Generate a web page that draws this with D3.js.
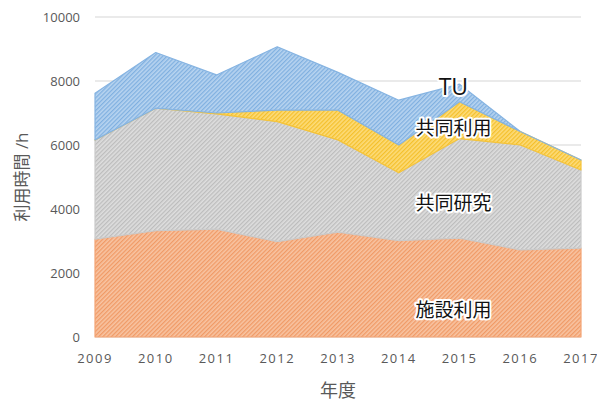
<!DOCTYPE html>
<html>
<head>
<meta charset="utf-8">
<script src="https://cdn.jsdelivr.net/npm/d3@7"></script>
<style>
  body { margin: 0; background: #fff; }
  text { font-family: "Open Sans", "Noto Sans CJK JP", sans-serif; }
</style>
</head>
<body>
<svg width="597" height="403"></svg>
<script>
const years = [2009, 2010, 2011, 2012, 2013, 2014, 2015, 2016, 2017];
const shisetsu = [3060, 3320, 3370, 2980, 3280, 3010, 3090, 2720, 2780];
const kyodoKenkyu = [3100, 3830, 3600, 3750, 2880, 2120, 3110, 3280, 2440];
const kyodoRiyo = [0, 0, 30, 360, 930, 870, 1150, 420, 310];
const tu = [1460, 1740, 1190, 1980, 1180, 1400, 550, 0, 0];
const yTicks = [0, 2000, 4000, 6000, 8000, 10000];

const keys = ['施設利用', '共同研究', '共同利用', 'TU'];
const seriesValues = [shisetsu, kyodoKenkyu, kyodoRiyo, tu];
const colors = {
  '施設利用': { base: '#f8c4a2', line: '#f09a66', edge: '#f3a474' },
  '共同研究': { base: '#dedede', line: '#bdbdbd', edge: '#cacaca' },
  '共同利用': { base: '#fddc7a', line: '#f4c02c', edge: '#f5c43a' },
  'TU':       { base: '#b8d4f0', line: '#80b0e0', edge: '#86b4e2' }
};
const labelPos = { // anchor (year, value) for in-chart labels
  'TU': [2014.9, 7830],
  '共同利用': [2014.9, 6530],
  '共同研究': [2014.9, 4190],
  '施設利用': [2014.9, 860]
};
const labelSize = { 'TU': 23, '共同利用': 19, '共同研究': 19, '施設利用': 19 };

const margin = { left: 95, right: 16, top: 17, bottom: 66 };
const svg = d3.select('svg');
const width = +svg.attr('width');
const height = +svg.attr('height');
const innerWidth = width - margin.left - margin.right;
const innerHeight = height - margin.top - margin.bottom;

const table = years.map((yr, i) => {
  const row = { year: yr };
  keys.forEach((k, j) => { row[k] = seriesValues[j][i]; });
  return row;
});

const x = d3.scaleLinear().domain([2009, 2017]).range([0, innerWidth]);
const y = d3.scaleLinear().domain([0, 10000]).range([innerHeight, 0]);

const defs = svg.append('defs');
keys.forEach((k, i) => {
  const p = defs.append('pattern')
    .attr('id', 'hatch' + i)
    .attr('patternUnits', 'userSpaceOnUse')
    .attr('width', 3)
    .attr('height', 3)
    .attr('patternTransform', 'rotate(-45)');
  p.append('rect').attr('width', 3).attr('height', 3).attr('fill', colors[k].base);
  p.append('rect').attr('width', 3).attr('height', 1.3).attr('fill', colors[k].line);
});

const g = svg.append('g')
  .attr('transform', `translate(${margin.left},${margin.top})`);

// grid
g.selectAll('.grid').data(yTicks).enter().append('line')
  .attr('x1', 0).attr('x2', innerWidth)
  .attr('y1', d => y(d)).attr('y2', d => y(d))
  .attr('stroke', '#e3e3e3').attr('stroke-width', 1.3);

const layers = d3.stack().keys(keys)(table);

const area = d3.area()
  .x(d => x(d.data.year))
  .y0(d => y(d[0]))
  .y1(d => y(d[1]));

g.selectAll('.layer').data(layers).enter().append('path')
  .attr('d', area)
  .attr('fill', (d, i) => `url(#hatch${i})`)
  .attr('stroke', d => colors[d.key].edge)
  .attr('stroke-width', 1.2)
  .attr('stroke-linejoin', 'round');

// y ticks
g.selectAll('.ytick').data(yTicks).enter().append('text')
  .attr('x', -15)
  .attr('y', d => y(d) + 5)
  .attr('text-anchor', 'end')
  .attr('font-size', 13)
  .attr('fill', '#595959')
  .text(d => d);

// x ticks
g.selectAll('.xtick').data(years).enter().append('text')
  .attr('x', d => x(d))
  .attr('y', innerHeight + 26)
  .attr('text-anchor', 'middle')
  .attr('font-size', 13)
  .attr('letter-spacing', 1.5)
  .attr('fill', '#595959')
  .text(d => d);

// axis titles
svg.append('text')
  .attr('transform', `translate(28,${margin.top + innerHeight / 2}) rotate(-90)`)
  .attr('text-anchor', 'middle')
  .attr('font-size', 17)
  .attr('fill', '#595959')
  .text('利用時間 /h');

svg.append('text')
  .attr('x', margin.left + innerWidth / 2)
  .attr('y', 397)
  .attr('text-anchor', 'middle')
  .attr('font-size', 18)
  .attr('fill', '#595959')
  .text('年度');

// area labels with white halo
keys.forEach(k => {
  const [lx, ly] = labelPos[k];
  g.append('text')
    .attr('x', x(lx))
    .attr('y', y(ly) + labelSize[k] * 0.37)
    .attr('text-anchor', 'middle')
    .attr('font-size', labelSize[k])
    .attr('fill', '#111')
    .attr('stroke', '#fff')
    .attr('stroke-width', 4)
    .attr('stroke-linejoin', 'round')
    .attr('paint-order', 'stroke')
    .text(k);
});
</script>
</body>
</html>
